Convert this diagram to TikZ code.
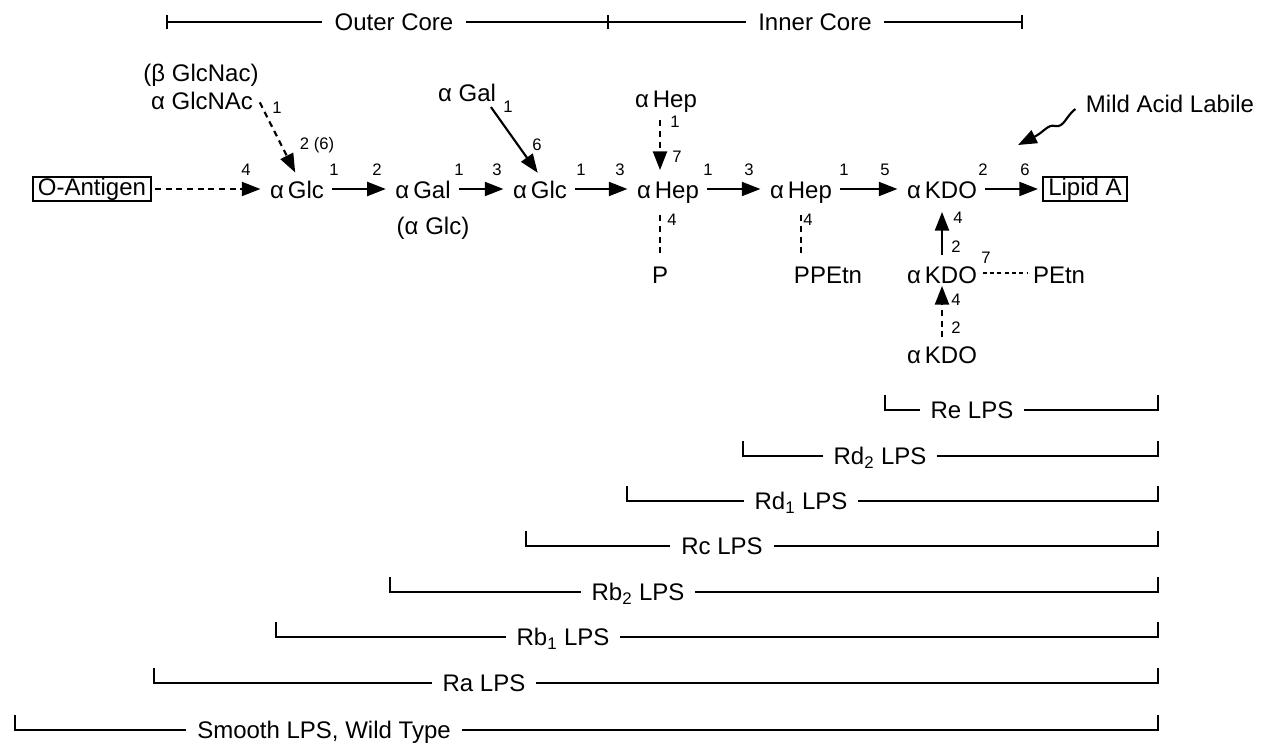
\documentclass[tikz,border=0pt]{standalone}
\usepackage{fontspec}
\setmainfont{Liberation Sans}
\usetikzlibrary{arrows.meta}

\begin{document}
\begin{tikzpicture}[x=0.75pt,y=0.75pt,yscale=-1,xscale=1,
  sugar/.style={inner xsep=4pt,inner ysep=2pt,text height=15pt,text depth=0pt,font=\fontsize{18}{20}\selectfont},
  box/.style={draw,line width=1.5pt,inner xsep=4pt,inner ysep=1pt,text height=13pt,text depth=3.5pt,font=\fontsize{18}{20}\selectfont},
  numb/.style={inner sep=0pt,font=\fontsize{12.5}{14}\selectfont},
  lps/.style={inner xsep=8pt,inner ysep=0pt,text height=13pt,text depth=0pt,font=\fontsize{18}{20}\selectfont},
  core/.style={lps,inner xsep=9pt},
  arr/.style={line width=1.6pt,-{Triangle[length=14pt,width=10.5pt]},shorten <=2pt,shorten >=3pt},
  darr/.style={arr,dash pattern=on 4.5pt off 3.5pt},
  dline/.style={line width=1.6pt,dash pattern=on 4.5pt off 3.5pt},
  dotline/.style={line width=1.2pt,dash pattern=on 3pt off 2.5pt},
  brk/.style={line width=1.4pt}]
%set diagram left start at 0, and has height of 745
\path[use as bounding box] (0,0) rectangle (1266,745);

%Text Node: core bar
\node[core] (outer) at (394,22) {Outer Core};
\node[core] (inner) at (815,22) {Inner Core};
\coordinate (coreL) at (166,22);
\coordinate (coreM) at (607,22);
\coordinate (coreR) at (1023,22);
%Straight Lines
\draw[brk,{Bar[width=11pt]}-] (coreL) -- (outer);
\draw[brk] (outer) -- (coreM);
\draw[brk,{Bar[width=11pt]}-] (coreM) -- (inner);
\draw[brk,-{Bar[width=11pt]}] (inner) -- (coreR);

%Text Node: main chain
\node[box] (oant) at (92,189) {O-Antigen};
\node[sugar] (glcA) at (297,189) {α\,Glc};
\node[sugar] (galA) at (423,189) {α\,Gal};
\node[sugar] (glcB) at (540,189) {α\,Glc};
\node[sugar] (hepA) at (668,189) {α\,Hep};
\node[sugar] (hepB) at (801,189) {α\,Hep};
\node[sugar] (kdoA) at (942,189) {α\,KDO};
\node[box] (lipid) at (1085,189) {Lipid A};

%Text Node: linkage positions
\node[numb] (lk1) at (246,170) {4};
\node[numb] (lk2) at (334,170) {1};
\node[numb] (lk3) at (377,170) {2};
\node[numb] (lk4) at (459,170) {1};
\node[numb] (lk5) at (497,170) {3};
\node[numb] (lk6) at (581,170) {1};
\node[numb] (lk7) at (620,170) {3};
\node[numb] (lk8) at (708,170) {1};
\node[numb] (lk9) at (749,170) {3};
\node[numb] (lk10) at (844,170) {1};
\node[numb] (lk11) at (885,170) {5};
\node[numb] (lk12) at (983,170) {2};
\node[numb] (lk13) at (1025,170) {6};

%Text Node: side groups
\node[sugar] (glcnacB) at (201,72) {(β GlcNac)};
\node[sugar] (glcnac) at (202,100) {α GlcNAc};
\node[numb] (lk14) at (277,108) {1};
\node[numb] (lk15) at (317,145) {2 (6)};
\node[sugar] (galT) at (467,92) {α Gal};
\node[numb] (lk16) at (508,107) {1};
\node[numb] (lk17) at (537,145) {6};
\node[sugar] (hepT) at (666,98) {α\,Hep};
\node[numb] (lk18) at (675,122) {1};
\node[numb] (lk19) at (677,157) {7};
\node[sugar] (glcS) at (433,225) {(α Glc)};
\node[numb] (lk20) at (672,220) {4};
\node[sugar] (phos) at (660,273) {P};
\node[numb] (lk21) at (808,220) {4};
\node[sugar] (ppetn) at (828,273) {PPEtn};
\node[numb] (lk22) at (958,218) {4};
\node[numb] (lk23) at (956,247) {2};
\node[sugar] (kdoB) at (942,273) {α\,KDO};
\node[numb] (lk24) at (986,258) {7};
\node[sugar] (petn) at (1059,273) {PEtn};
\node[numb] (lk25) at (956,300) {4};
\node[numb] (lk26) at (956,328) {2};
\node[sugar] (kdoC) at (942,353) {α\,KDO};
\node[sugar] (mild) at (1170,103) {Mild Acid Labile};

%Straight Lines: main chain
\draw[darr] (oant) -- (glcA);
\draw[arr] (glcA) -- (galA);
\draw[arr] (galA) -- (glcB);
\draw[arr] (glcB) -- (hepA);
\draw[arr] (hepA) -- (hepB);
\draw[arr] (hepB) -- (kdoA);
\draw[arr] (kdoA) -- (lipid);

%Straight Lines: branches
\draw[darr] (glcnac.east) -- (glcA.north);
\draw[arr] (galT.-30) -- (glcB.north);
\draw[darr,shorten <=7pt,shorten >=4.5pt] (hepT.south -| phos.north) -- (hepA.north -| phos.north);
\draw[dline,shorten <=10pt,shorten >=4pt] (phos.north |- hepA.south) -- (phos.north);
\draw[dline,shorten <=10pt,shorten >=4pt] (hepB.south) -- (hepB.south |- ppetn.north);
\draw[arr,shorten <=4pt,shorten >=7.5pt] (kdoB) -- (kdoA);
\draw[darr,shorten >=0pt] (kdoC) -- (kdoB);
\draw[dotline] (kdoB) -- (petn);

%Curve Lines
\coordinate (cut) at (1018,145);
\draw[line width=1.6pt,-{Triangle[length=14pt,width=10.5pt]}] ([shift={(-5,6)}]mild.west) .. controls (1066,116) and (1064,128) .. (1055,126) .. controls (1048,124) and (1044,132) .. (cut);

%Text Node: LPS ranges
\node[lps] (re) at (972,410) {Re LPS};
\node[lps] (rdb) at (880,456) {Rd\textsubscript{2} LPS};
\node[lps] (rda) at (801,501) {Rd\textsubscript{1} LPS};
\node[lps] (rc) at (722,546) {Rc LPS};
\node[lps] (rbb) at (638,592) {Rb\textsubscript{2} LPS};
\node[lps] (rba) at (563,637) {Rb\textsubscript{1} LPS};
\node[lps] (ra) at (484,683) {Ra LPS};
\node[lps] (smooth) at (324,730) {Smooth LPS, Wild Type};

%Bracket Lines
\coordinate (reL) at (885,395);
\coordinate (reR) at (1158,395);
\draw[brk] (re) -| (reL);
\draw[brk] (re) -| (reR);
\coordinate (rdbL) at (743,441);
\coordinate (rdbR) at (1158,441);
\draw[brk] (rdb) -| (rdbL);
\draw[brk] (rdb) -| (rdbR);
\coordinate (rdaL) at (627,486);
\coordinate (rdaR) at (1158,486);
\draw[brk] (rda) -| (rdaL);
\draw[brk] (rda) -| (rdaR);
\coordinate (rcL) at (526,531);
\coordinate (rcR) at (1158,531);
\draw[brk] (rc) -| (rcL);
\draw[brk] (rc) -| (rcR);
\coordinate (rbbL) at (390,577);
\coordinate (rbbR) at (1158,577);
\draw[brk] (rbb) -| (rbbL);
\draw[brk] (rbb) -| (rbbR);
\coordinate (rbaL) at (276,622);
\coordinate (rbaR) at (1158,622);
\draw[brk] (rba) -| (rbaL);
\draw[brk] (rba) -| (rbaR);
\coordinate (raL) at (154,668);
\coordinate (raR) at (1158,668);
\draw[brk] (ra) -| (raL);
\draw[brk] (ra) -| (raR);
\coordinate (smoothL) at (15,715);
\coordinate (smoothR) at (1158,715);
\draw[brk] (smooth) -| (smoothL);
\draw[brk] (smooth) -| (smoothR);




\end{tikzpicture}
\end{document}
